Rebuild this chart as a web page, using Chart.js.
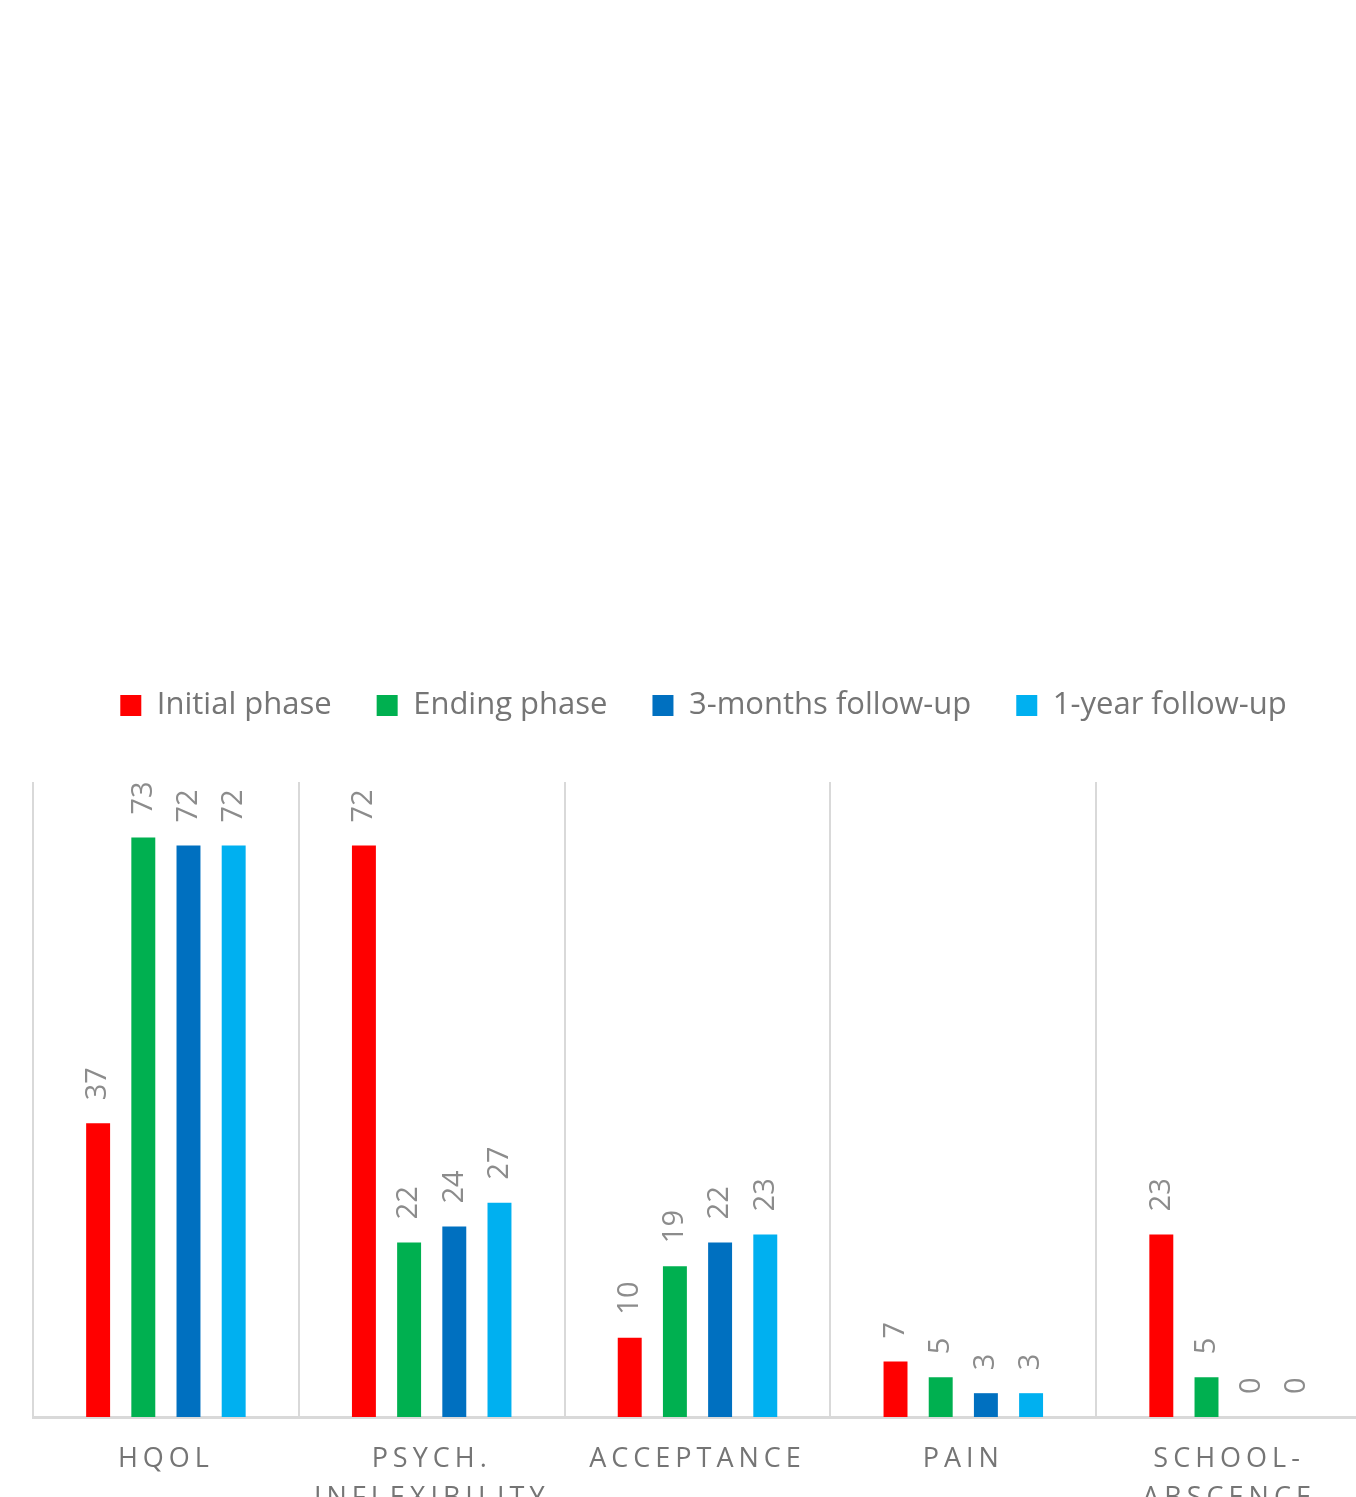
<!DOCTYPE html>
<html>
<head>
<meta charset="utf-8">
<title>Phases chart</title>
<script src="https://cdn.jsdelivr.net/npm/chart.js@4.4.1/dist/chart.umd.min.js"></script>
<style>
  html, body { margin: 0; padding: 0; background: #fff; overflow: hidden; }
  #wrap { position: absolute; left: 0; top: 0; width: 1406px; height: 1497px; }
</style>
</head>
<body>
<div id="wrap"><canvas id="myChart" width="1406" height="1497"></canvas></div>
<script>
// categories (multi-line labels)
const categories = [
  ['HQOL'],
  ['PSYCH.', 'INFLEXIBILITY'],
  ['ACCEPTANCE'],
  ['PAIN'],
  ['SCHOOL-', 'ABSCENCE']
];
const seriesNames = ['Initial phase', 'Ending phase', '3-months follow-up', '1-year follow-up'];
const initialPhase = [37, 72, 10, 7, 23];
const endingPhase = [73, 22, 19, 5, 5];
const followUp3m = [72, 24, 22, 3, 0];
const followUp1y = [72, 27, 23, 3, 0];
const seriesColors = ['#FF0000', '#00B050', '#0070C0', '#00B0F0'];

const fontName = "'Open Sans', 'Liberation Sans', sans-serif";

// rotated value labels above each bar
const valueLabels = {
  id: 'valueLabels',
  afterDatasetsDraw(chart) {
    const ctx = chart.ctx;
    ctx.save();
    ctx.fillStyle = '#8c8c8c';
    ctx.font = '29px ' + fontName;
    ctx.textAlign = 'left';
    ctx.textBaseline = 'middle';
    chart.data.datasets.forEach((ds, i) => {
      chart.getDatasetMeta(i).data.forEach((bar, j) => {
        ctx.save();
        ctx.translate(bar.x, bar.y - 23);
        ctx.rotate(-Math.PI / 2);
        ctx.fillText(String(ds.data[j]), 0, 0);
        ctx.restore();
      });
    });
    ctx.restore();
  }
};

// spaced-out category labels under the axis
const categoryLabels = {
  id: 'categoryLabels',
  afterDraw(chart) {
    const ctx = chart.ctx;
    const xScale = chart.scales.x;
    ctx.save();
    ctx.fillStyle = '#757575';
    ctx.font = '27px ' + fontName;
    ctx.letterSpacing = '5px';
    ctx.textAlign = 'center';
    ctx.textBaseline = 'middle';
    categories.forEach((lines, i) => {
      const x = xScale.getPixelForValue(i);
      lines.forEach((line, k) => {
        ctx.fillText(line, x, chart.chartArea.bottom + 42 + k * 39);
      });
    });
    ctx.restore();
  }
};

// a bit of room between legend and plot, legend nudged to the page centre
const legendGap = {
  id: 'legendGap',
  beforeLayout(chart) {
    const lg = chart.legend;
    if (lg && !lg._gapPatched) {
      const fit = lg.fit;
      lg.fit = function () {
        fit.call(this);
        this.height += 51;
      };
      lg._gapPatched = true;
    }
  },
  afterLayout(chart) {
    if (chart.legend) {
      chart.legend.left += 12;
    }
  }
};

const datasets = [initialPhase, endingPhase, followUp3m, followUp1y].map((vals, i) => ({
  label: seriesNames[i],
  data: vals,
  backgroundColor: seriesColors[i],
  borderWidth: 0,
  categoryPercentage: 0.68,
  barPercentage: 0.53
}));

new Chart(document.getElementById('myChart'), {
  type: 'bar',
  data: {
    labels: categories.map(c => c.join(' ')),
    datasets: datasets
  },
  options: {
    responsive: false,
    animation: false,
    layout: {
      padding: { top: 645, left: 33, right: 44, bottom: 80 }
    },
    plugins: {
      legend: {
        position: 'top',
        labels: {
          boxWidth: 21,
          boxHeight: 21,
          padding: 45,
          color: '#757575',
          font: { family: fontName, size: 31 }
        }
      },
      tooltip: { enabled: false }
    },
    scales: {
      x: {
        grid: { offset: true, color: '#d9d9d9', lineWidth: 2, drawTicks: false },
        border: { color: '#d9d9d9', width: 3 },
        ticks: { display: false }
      },
      y: {
        display: false,
        min: 0,
        max: 80
      }
    }
  },
  plugins: [valueLabels, categoryLabels, legendGap]
});
</script>
</body>
</html>
